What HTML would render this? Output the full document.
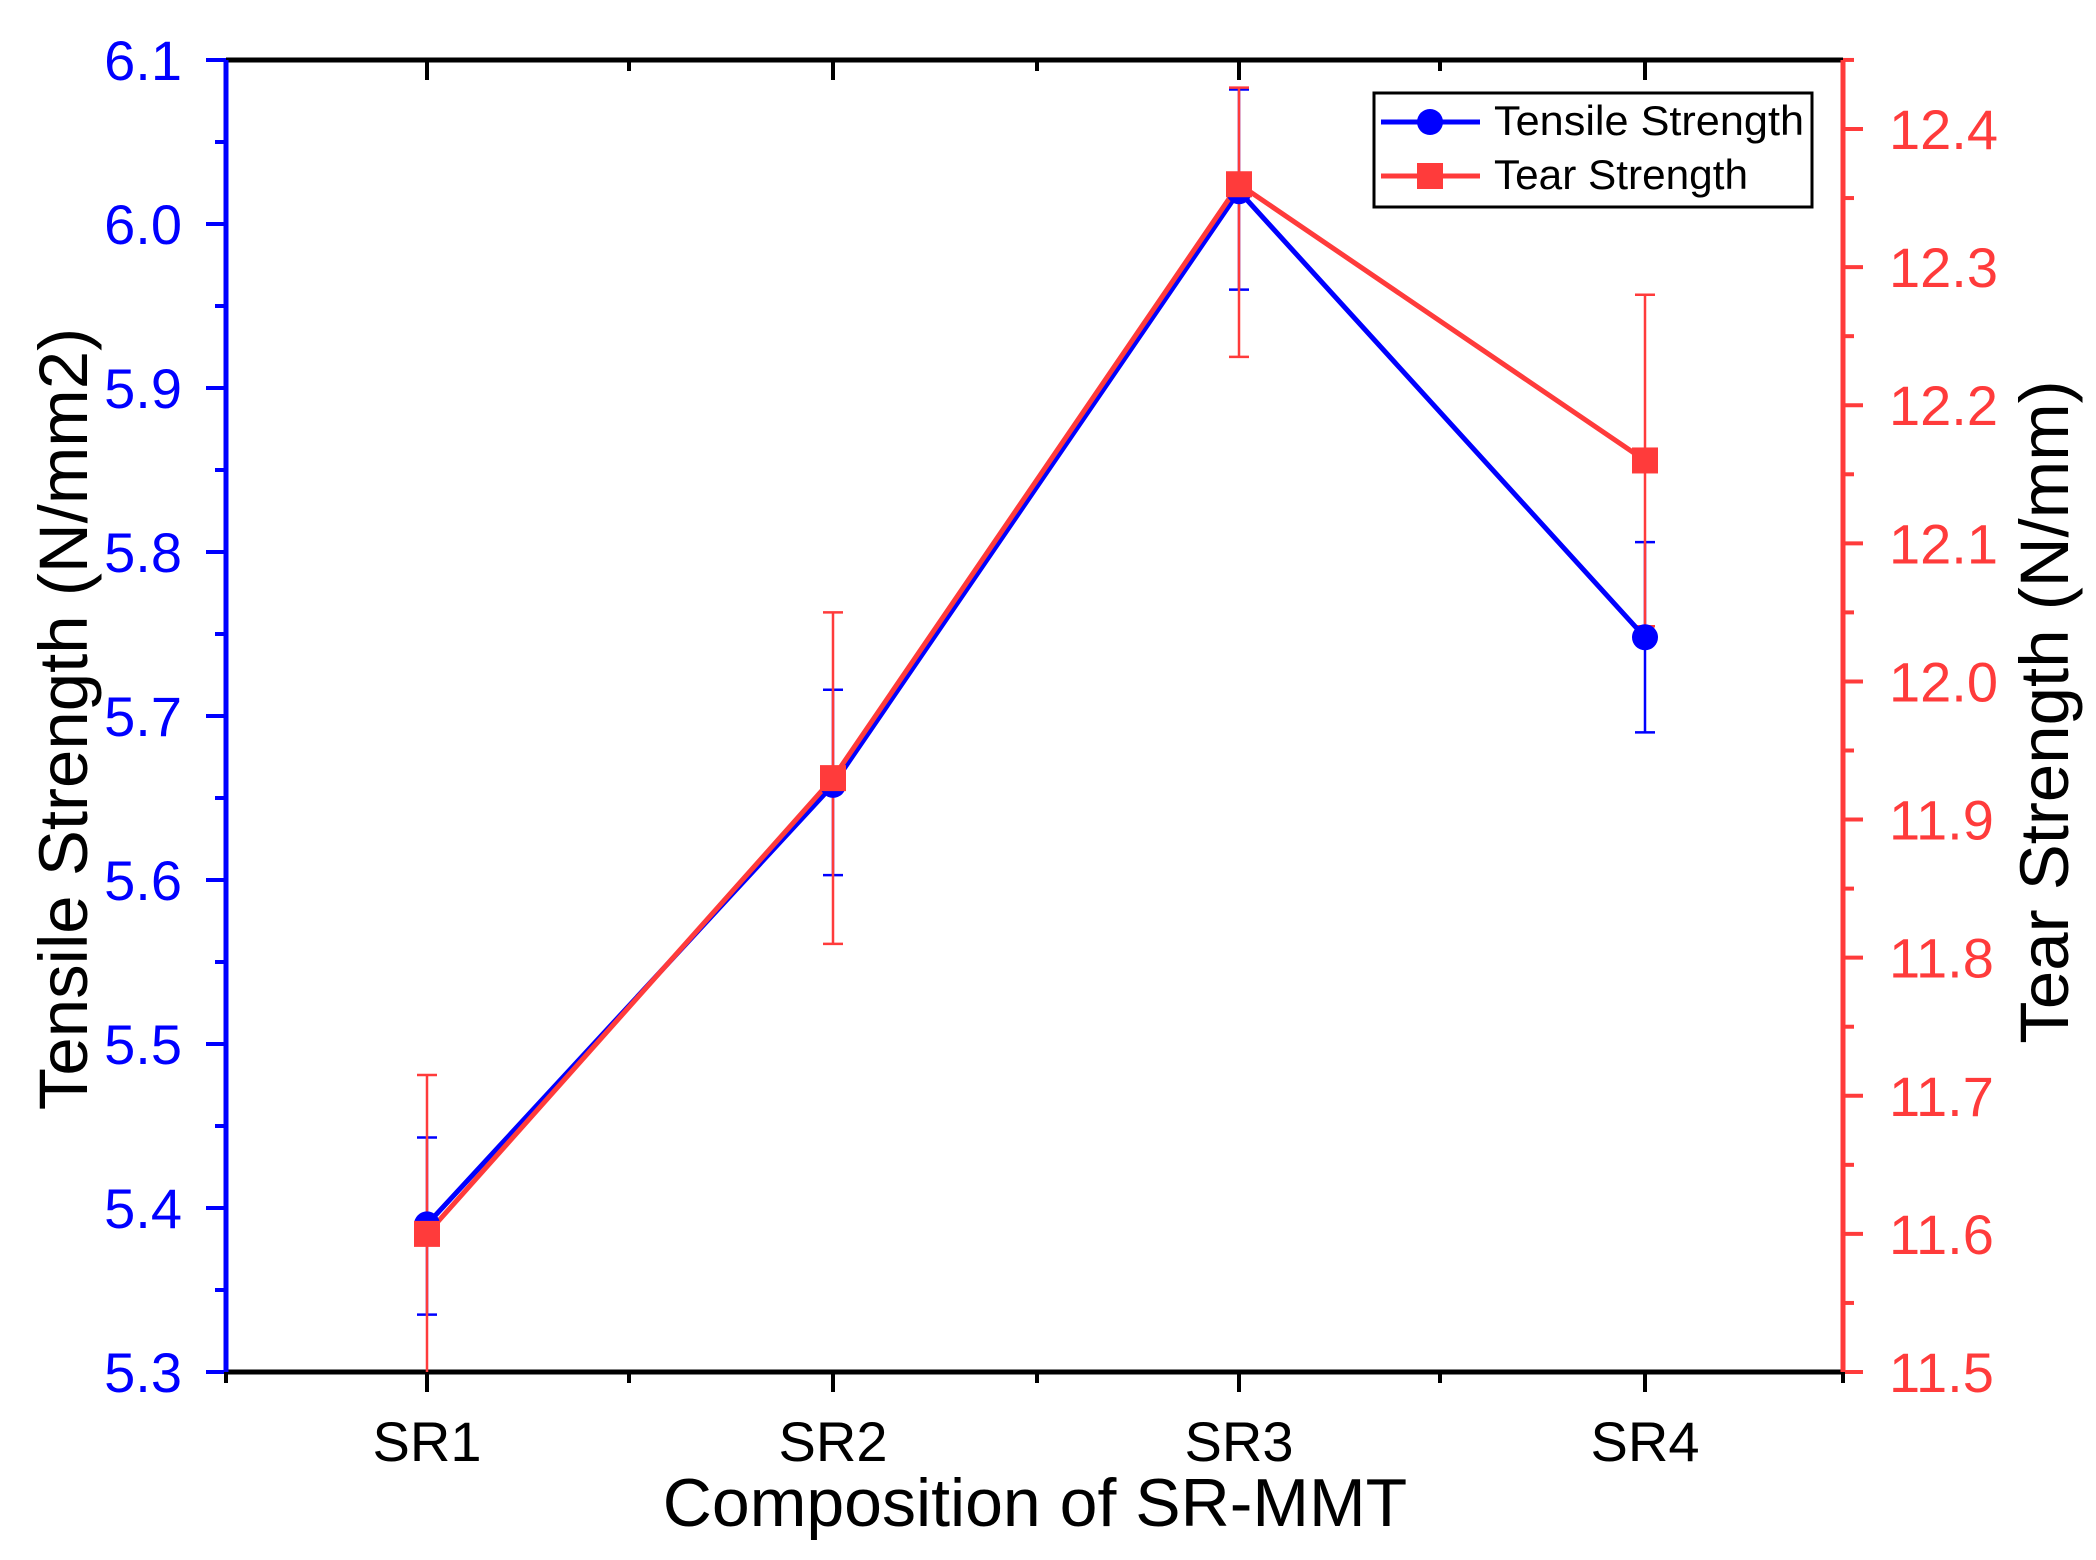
<!DOCTYPE html>
<html><head><meta charset="utf-8"><style>
html,body{margin:0;padding:0;background:#fff;}
svg{display:block;}
text{font-family:"Liberation Sans",sans-serif;}
</style></head><body>
<svg id="s" width="2096" height="1560" xmlns="http://www.w3.org/2000/svg"></svg>
<script>
const s=document.getElementById('s');let h='';
const L=226,R=1843,T=60,B=1372;
const yl=v=>B-(v-5.3)*1640;
const yr=v=>B-(v-11.5)*(1372-129)/0.9;
const xs=[427,833,1239,1645];
const blue='#0000ff',red='#ff3b3b';
for(let i=0;i<=16;i++){const v=5.3+i*0.05,y=yl(v),maj=i%2==0;
 h+=`<line x1="${L-(maj?20:11)}" y1="${y}" x2="${L}" y2="${y}" stroke="${blue}" stroke-width="4"/>`;
 if(maj)h+=`<text x="${L-44}" y="${y+20}" font-size="56" fill="${blue}" text-anchor="end">${v.toFixed(1)}</text>`;}
for(let i=0;i<=19;i++){const v=11.5+i*0.05,y=yr(v);if(y<T-1)break;const maj=i%2==0;
 h+=`<line x1="${R}" y1="${y}" x2="${R+(maj?20:11)}" y2="${y}" stroke="${red}" stroke-width="4"/>`;
 if(maj)h+=`<text x="${R+46}" y="${y+20}" font-size="56" fill="${red}">${v.toFixed(1)}</text>`;}
const minor=[629,1037,1440];
['SR1','SR2','SR3','SR4'].forEach((t,i)=>{const x=xs[i];
 h+=`<line x1="${x}" y1="${B}" x2="${x}" y2="${B+20}" stroke="#000" stroke-width="4"/><line x1="${x}" y1="${T}" x2="${x}" y2="${T+20}" stroke="#000" stroke-width="4"/>`;
 h+=`<text x="${x}" y="1461" font-size="56" text-anchor="middle">${t}</text>`;});
minor.concat([226,1843]).forEach(x=>{h+=`<line x1="${x}" y1="${B}" x2="${x}" y2="${B+11}" stroke="#000" stroke-width="4"/><line x1="${x}" y1="${T}" x2="${x}" y2="${T+11}" stroke="#000" stroke-width="4"/>`;});
h+=`<line x1="${L}" y1="${T}" x2="${R}" y2="${T}" stroke="#000" stroke-width="5"/><line x1="${L}" y1="${B}" x2="${R}" y2="${B}" stroke="#000" stroke-width="5"/>`;
h+=`<line x1="${L}" y1="${T}" x2="${L}" y2="${B}" stroke="${blue}" stroke-width="5"/><line x1="${R}" y1="${T}" x2="${R}" y2="${B}" stroke="${red}" stroke-width="5"/>`;
const ten=[[5.39,5.335,5.443],[5.658,5.603,5.716],[6.02,5.96,6.082],[5.748,5.69,5.806]];
const tea=[[11.60,11.48,11.715],[11.93,11.81,12.05],[12.36,12.235,12.43],[12.16,12.04,12.28]];
const cap=(x,y,c)=>`<line x1="${x-10}" y1="${y}" x2="${x+10}" y2="${y}" stroke="${c}" stroke-width="2.5"/>`;
ten.forEach((d,i)=>{const x=xs[i];h+=`<line x1="${x}" y1="${yl(d[1])}" x2="${x}" y2="${yl(d[2])}" stroke="${blue}" stroke-width="2.5"/>`+cap(x,yl(d[1]),blue)+cap(x,yl(d[2]),blue);});
tea.forEach((d,i)=>{const x=xs[i];const lo=Math.min(yr(d[1]),B);h+=`<line x1="${x}" y1="${lo}" x2="${x}" y2="${yr(d[2])}" stroke="${red}" stroke-width="2.5"/>`+(lo<B?cap(x,lo,red):'')+cap(x,yr(d[2]),red);});
h+=`<polyline points="${ten.map((d,i)=>xs[i]+','+yl(d[0])).join(' ')}" fill="none" stroke="${blue}" stroke-width="5"/>`;
h+=`<polyline points="${tea.map((d,i)=>xs[i]+','+yr(d[0])).join(' ')}" fill="none" stroke="${red}" stroke-width="5"/>`;
ten.forEach((d,i)=>{h+=`<circle cx="${xs[i]}" cy="${yl(d[0])}" r="13" fill="${blue}"/>`;});
tea.forEach((d,i)=>{h+=`<rect x="${xs[i]-13}" y="${yr(d[0])-13}" width="26" height="26" fill="${red}"/>`;});
h+=`<rect x="1374" y="93" width="438" height="114" fill="#fff" stroke="#000" stroke-width="3"/>`;
h+=`<line x1="1381" y1="122" x2="1480" y2="122" stroke="${blue}" stroke-width="5"/><circle cx="1430" cy="122" r="13" fill="${blue}"/>`;
h+=`<line x1="1381" y1="176" x2="1480" y2="176" stroke="${red}" stroke-width="5"/><rect x="1417" y="163" width="26" height="26" fill="${red}"/>`;
h+=`<text x="1494" y="135" font-size="42" textLength="310" lengthAdjust="spacingAndGlyphs">Tensile Strength</text>`;
h+=`<text x="1494" y="189" font-size="42" textLength="254" lengthAdjust="spacingAndGlyphs">Tear Strength</text>`;
h+=`<text x="1035" y="1526" font-size="68" text-anchor="middle">Composition of SR-MMT</text>`;
h+=`<text transform="translate(87,719) rotate(-90)" font-size="69" text-anchor="middle">Tensile Strength (N/mm2)</text>`;
h+=`<text transform="translate(2068,712) rotate(-90)" font-size="69" text-anchor="middle">Tear Strength (N/mm)</text>`;
s.innerHTML=h;
</script>
</body></html>
